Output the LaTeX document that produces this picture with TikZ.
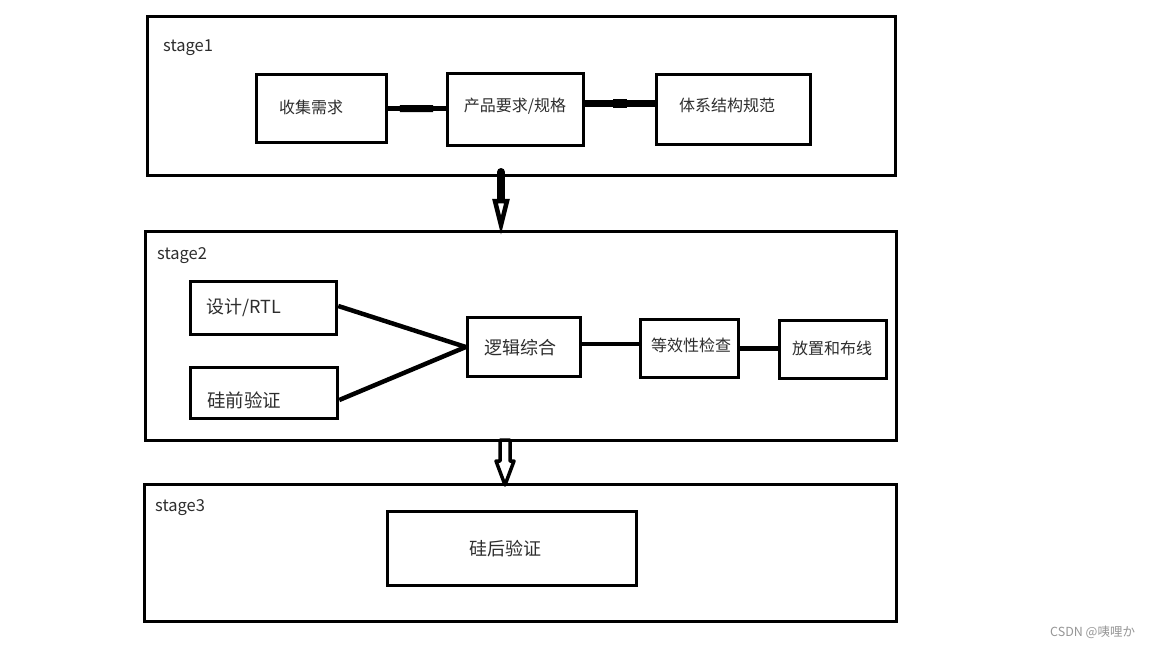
\documentclass[tikz,border=0pt]{standalone}
\usepackage{fontspec}
\usetikzlibrary{calc}
\setmainfont{Noto Sans CJK SC}
\definecolor{txt}{RGB}{45,45,45}
\definecolor{wm}{RGB}{150,150,150}
\tikzset{
  stagebox/.style={draw=black, line width=3pt, inner sep=0pt},
  box/.style={draw=black, line width=3.5pt, inner sep=0pt},
  lbl/.style={text=txt, inner sep=0pt, font=\fontsize{16pt}{18pt}\selectfont},
  biglbl/.style={lbl, font=\fontsize{18pt}{20pt}\selectfont},
  stagelbl/.style={text=txt, inner sep=0pt, anchor=west, font=\fontsize{16.5pt}{18pt}\selectfont},
  conn/.style={line width=4.5pt},
}
\begin{document}
\begin{tikzpicture}[x=1pt,y=-1pt]
\useasboundingbox[fill=white] (0,0) rectangle (1152,648);
% stage frames
\node[stagebox, minimum width=748pt, minimum height=159pt] (s1) at (521.5,96) {};
\node[stagebox, minimum width=751pt, minimum height=209pt] (s2) at (521,336) {};
\node[stagebox, minimum width=752pt, minimum height=137pt] (s3) at (520.5,553) {};
\node[stagelbl] (s1t) at (163,48) {stage1};
\node[stagelbl] (s2t) at (157,256) {stage2};
\node[stagelbl] (s3t) at (155,508) {stage3};
% stage 1
\node[box, minimum width=130pt, minimum height=68pt] (b1) at (321.5,108.5) {};
\node[box, minimum width=136pt, minimum height=72pt] (b2) at (515.5,109.5) {};
\node[box, minimum width=154pt, minimum height=70pt] (b3) at (733.5,109.5) {};
\node[lbl] (t1) at (311,107) {收集需求};
\node[lbl] (t2) at (515,106) {产品要求/规格};
\node[lbl] (t3) at (727,105) {体系结构规范};
\draw[conn, line cap=round] (b1.east) -- (b1.east -| b2.west);
\draw[line width=7pt] ($(b1.east)!0.2!(b1.east -| b2.west)$) -- ($(b1.east)!0.78!(b1.east -| b2.west)$);
\coordinate (c2a) at ($(b2.east)+(0,-6)$);
\draw[line width=6.5pt] (c2a) -- (c2a -| b3.west);
\draw[line width=8.5pt] ($(c2a)!0.4!(c2a -| b3.west)$) -- ($(c2a)!0.6!(c2a -| b3.west)$);
% stage 2
\node[box, minimum width=146pt, minimum height=53pt] (d1) at (263.5,308) {};
\node[box, minimum width=147pt, minimum height=51pt] (d2) at (264,393) {};
\node[box, minimum width=113pt, minimum height=59pt] (l) at (524,347) {};
\node[box, minimum width=98pt, minimum height=58pt] (e) at (689.5,348.5) {};
\node[box, minimum width=107pt, minimum height=58pt] (p) at (833,349.5) {};
\node[lbl, font=\fontsize{18pt}{20pt}\selectfont] (d1t) at (244,308) {设计/RTL};
\node[lbl, font=\fontsize{18.5pt}{20pt}\selectfont] (d2t) at (244,400) {硅前验证};
\node[biglbl] (lt) at (520,348) {逻辑综合};
\node[lbl] (et) at (691,345) {等效性检查};
\node[lbl] (pt) at (832,348) {放置和布线};
\draw[conn] ($(d1.east)+(0,-2)$) -- (l.west);
\draw[conn] ($(d2.east)+(0,7)$) -- (l.west);
\draw[conn] ($(l.east)+(0,-3)$) -- ($(l.east -| e.west)+(0,-3)$);
\draw[conn] ($(e.east)+(0,0)$) -- (e.east -| p.west);
% stage 3
\node[box, minimum width=249pt, minimum height=74pt] (h) at (512,548.5) {};
\node[biglbl] (ht) at (505,549) {硅后验证};
% arrows between stages
\coordinate (a1s) at (501,172);
\coordinate (a1h) at (501,201);
\draw[line width=8pt, line cap=round] (a1s) -- (a1h);
\draw[line width=4.5pt, fill=white, line join=miter] ($(a1h)+(-6,0)$) -- ($(a1h)+(6,0)$) -- ($(a1h)+(0,24)$) -- cycle;
\coordinate (a2s) at (505,440);
\draw[line width=3.5pt, fill=white, line join=round] ($(a2s)+(-5,0)$) -- ($(a2s)+(5,0)$) -- ($(a2s)+(5,21)$) -- ($(a2s)+(9,21)$) -- ($(a2s)+(0,45)$) -- ($(a2s)+(-9,21)$) -- ($(a2s)+(-5,21)$) -- cycle;
% watermark
\node[text=wm, inner sep=0pt, anchor=west, font=\fontsize{12.5pt}{14pt}\selectfont] (wmk) at (1050,632) {CSDN @咦哩か};
\end{tikzpicture}
\end{document}
